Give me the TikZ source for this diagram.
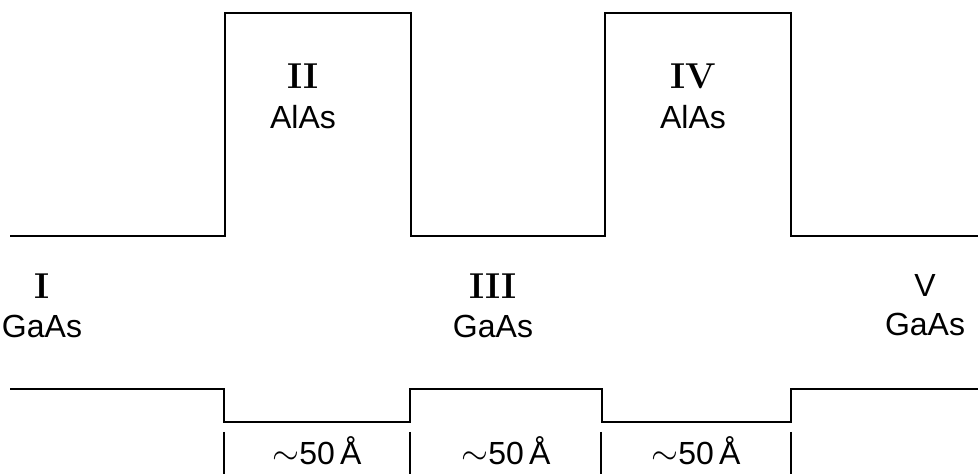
\documentclass[tikz,border=0pt]{standalone}
\usepackage{fontspec}
\setsansfont{Liberation Sans}
\usepackage{tikz}
\usetikzlibrary{positioning}

\begin{document}
\begin{tikzpicture}[
    x=0.5pt, y=-0.5pt,
    band/.style={line width=1.4pt, line join=miter},
    tick/.style={line width=1.1pt},
    layer/.style={font=\sffamily\fontsize{16}{19}\selectfont, inner sep=1pt},
    numeral/.style={font=\rmfamily\bfseries\fontsize{18}{20}\selectfont, inner sep=1pt},
    width/.style={font=\sffamily\fontsize{16}{19}\selectfont, inner sep=1pt}
]
\useasboundingbox (0,0) rectangle (978,474);

% Conduction band edge
\draw[band] (10,236) -- (225,236) -- (225,13) -- (411,13) -- (411,236)
    -- (605,236) -- (605,13) -- (791,13) -- (791,236) -- (978,236);

% Valence band edge
\draw[band] (10,389) -- (224,389) -- (224,422) -- (410,422) -- (410,389)
    -- (602,389) -- (602,422) -- (791,422) -- (791,389) -- (978,389);

% Width markers
\foreach \xx in {224,410,601,791}
    \draw[tick] (\xx,432) -- (\xx,474);

% Layer labels
\node[numeral] (n1) at (42,286) {I};
\node[layer, below=6pt of n1] (m1) {GaAs};
\node[numeral] (n2) at (303,76) {II};
\node[layer, below=6pt of n2] (m2) {AlAs};
\node[numeral] (n3) at (493,286) {III};
\node[layer, below=6pt of n3] (m3) {GaAs};
\node[numeral] (n4) at (693,76) {IV};
\node[layer, below=6pt of n4] (m4) {AlAs};
\node[layer] (n5) at (925,285) {V};
\node[layer, below=6pt of n5] (m5) {GaAs};

% Thicknesses
\node[width] (w1) at (317,451) {$\sim$50\,Å};
\node[width] (w2) at (506,451) {$\sim$50\,Å};
\node[width] (w3) at (696,451) {$\sim$50\,Å};

\end{tikzpicture}
\end{document}
